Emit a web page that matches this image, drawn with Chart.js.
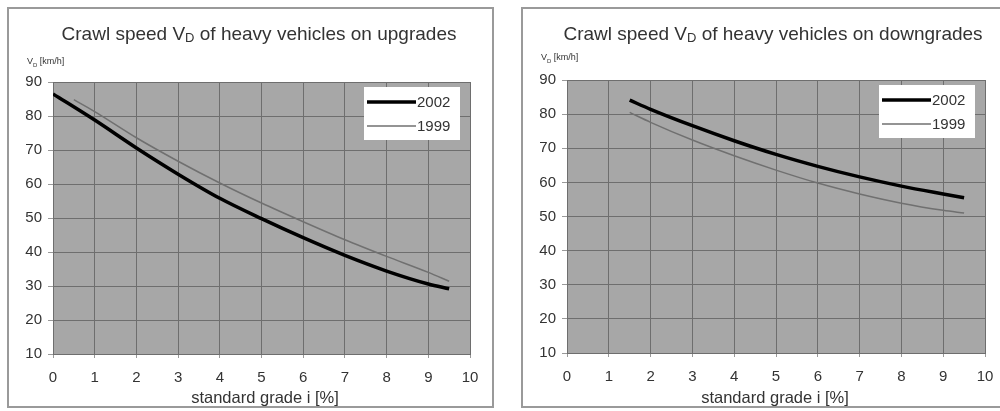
<!DOCTYPE html>
<html lang="en">
<head>
    <meta charset="UTF-8">
    <title>Crawl speed of heavy vehicles</title>
    <script src="https://cdn.jsdelivr.net/npm/chart.js"></script>
    <style>
        body { margin: 0; background: #fff; font-family: "Liberation Sans", Arial, sans-serif; color: #333; }
        .panel { position: absolute; top: 7px; height: 401px; border: 2px solid #9a9a9a; box-sizing: border-box; }
        .wrap { position: absolute; top: 0; width: 500px; height: 411px; }
        .title { position: absolute; top: 23px; font-size: 19px; white-space: nowrap; transform: translateX(-50%); }
        .title sub { font-size: 13px; vertical-align: -2px; }
        .unit { position: absolute; font-size: 9px; white-space: nowrap; }
        .unit sub { font-size: 6px; }
        .xtitle { position: absolute; top: 388px; font-size: 16.5px; white-space: nowrap; transform: translateX(-50%); }
    </style>
</head>
<body>
    <div class="panel" style="left:7px; width:487px;"></div>
    <div class="panel" style="left:521px; width:490px;"></div>

    <div class="wrap" style="left:0"><canvas id="upChart" width="500" height="411"></canvas></div>
    <div class="wrap" style="left:500px"><canvas id="downChart" width="500" height="411"></canvas></div>

    <div class="title" style="left:259px">Crawl speed V<sub>D</sub> of heavy vehicles on upgrades</div>
    <div class="title" style="left:773px">Crawl speed V<sub>D</sub> of heavy vehicles on downgrades</div>
    <div class="unit" style="left:27px; top:56px">V<sub>D</sub> [km/h]</div>
    <div class="unit" style="left:541px; top:52px">V<sub>D</sub> [km/h]</div>
    <div class="xtitle" style="left:265px">standard grade i [%]</div>
    <div class="xtitle" style="left:775px">standard grade i [%]</div>

    <script>
        // upgrades
        let upX2002 = [0, 1, 2, 3, 4, 5, 6, 7, 8, 9, 9.5];
        let upY2002 = [86.5, 78.8, 70.6, 62.9, 55.8, 49.8, 44.2, 39.0, 34.4, 30.6, 29.2];
        let upX1999 = [0.5, 1, 2, 3, 4, 5, 6, 7, 8, 9, 9.5];
        let upY1999 = [84.8, 81.3, 73.6, 66.7, 60.3, 54.4, 48.9, 43.6, 38.7, 34.0, 31.4];
        // downgrades
        let downX2002 = [1.5, 2, 3, 4, 5, 6, 7, 8, 9, 9.5];
        let downY2002 = [84.1, 81.4, 76.6, 72.2, 68.2, 64.7, 61.6, 58.9, 56.6, 55.5];
        let downX1999 = [1.5, 2, 3, 4, 5, 6, 7, 8, 9, 9.5];
        let downY1999 = [80.5, 77.6, 72.4, 67.8, 63.6, 59.8, 56.6, 53.9, 51.8, 51.0];
        let seriesNames = ['2002', '1999'];

        let font = "'Liberation Sans', Arial, sans-serif";
        let gridColor = '#6e6e6e';

        function pts(xs, ys) {
            return xs.map((x, i) => ({ x: x, y: ys[i] }));
        }

        // grey plot background
        let plotBg = {
            id: 'plotBg',
            beforeDraw(chart) {
                let a = chart.chartArea, c = chart.ctx;
                c.save();
                c.fillStyle = '#a7a7a7';
                c.fillRect(a.left, a.top, a.right - a.left, a.bottom - a.top);
                c.restore();
            }
        };

        // white legend box inside the plot, top right
        let boxLegend = {
            id: 'boxLegend',
            afterDatasetsDraw(chart) {
                let a = chart.chartArea, c = chart.ctx;
                let bx = a.right - 106, by = a.top + 5;
                c.save();
                c.fillStyle = '#fff';
                c.fillRect(bx, by, 96, 53);
                chart.data.datasets.forEach((ds, i) => {
                    let y = by + 15 + i * 24;
                    c.strokeStyle = ds.borderColor;
                    c.lineWidth = ds.borderWidth;
                    c.beginPath();
                    c.moveTo(bx + 3, y);
                    c.lineTo(bx + 52, y);
                    c.stroke();
                    c.fillStyle = '#333';
                    c.font = '15px ' + font;
                    c.textBaseline = 'middle';
                    c.fillText(ds.label, bx + 53, y + 1);
                });
                c.restore();
            }
        };

        function makeChart(id, s2002, s1999, yWidth, xHeight, top, right) {
            let ctx = document.getElementById(id).getContext('2d');
            return new Chart(ctx, {
                type: 'line',
                data: {
                    datasets: [{
                        label: seriesNames[0],
                        data: s2002,
                        borderColor: '#000',
                        borderWidth: 3.5,
                        pointRadius: 0,
                        cubicInterpolationMode: 'monotone',
                        fill: false
                    }, {
                        label: seriesNames[1],
                        data: s1999,
                        borderColor: '#707070',
                        borderWidth: 1.5,
                        pointRadius: 0,
                        cubicInterpolationMode: 'monotone',
                        fill: false
                    }]
                },
                options: {
                    responsive: false,
                    animation: false,
                    layout: { padding: { left: 0, top: top, right: right, bottom: 0 } },
                    plugins: { legend: { display: false }, tooltip: { enabled: false } },
                    scales: {
                        x: {
                            type: 'linear', min: 0, max: 10,
                            afterFit: s => { s.height = xHeight; s.paddingLeft = 0; s.paddingRight = 0; },
                            ticks: { stepSize: 1, maxRotation: 0, autoSkip: false, color: '#333', padding: 11, font: { family: font, size: 15 } },
                            grid: { color: gridColor, tickColor: '#999', tickLength: 4 },
                            border: { color: gridColor }
                        },
                        y: {
                            min: 10, max: 90,
                            afterFit: s => { s.width = yWidth; s.paddingTop = 0; s.paddingBottom = 0; },
                            ticks: { stepSize: 10, color: '#333', padding: 6, font: { family: font, size: 15 } },
                            grid: { color: gridColor, tickColor: '#999', tickLength: 5 },
                            border: { color: gridColor }
                        }
                    }
                },
                plugins: [plotBg, boxLegend]
            });
        }

        makeChart('upChart', pts(upX2002, upY2002), pts(upX1999, upY1999), 53, 57, 82, 30);
        makeChart('downChart', pts(downX2002, downY2002), pts(downX1999, downY1999), 67, 58, 80, 15);
    </script>
</body>
</html>
